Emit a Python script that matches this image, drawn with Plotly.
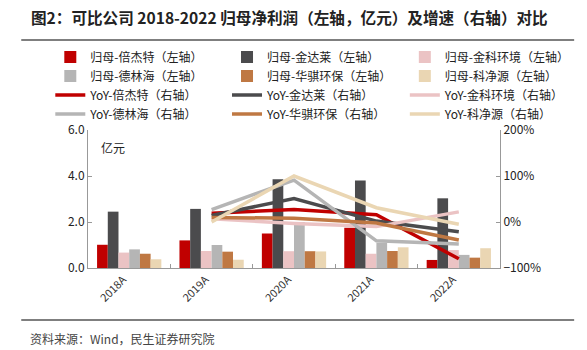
import plotly.graph_objects as go

years = ["2018A", "2019A", "2020A", "2021A", "2022A"]
companies = ["倍杰特", "金达莱", "金科环境", "德林海", "华骐环保", "科净源"]
colors = ["#C00000", "#4B4B4D", "#EBC3C4", "#B5B5B5", "#BF7843", "#EAD6B3"]
legend_col = ["legend", "legend2", "legend3", "legend", "legend2", "legend3"]

profit = {
    "倍杰特": [1.01, 1.20, 1.50, 1.75, 0.35],
    "金达莱": [2.45, 2.57, 3.86, 3.80, 3.03],
    "金科环境": [0.67, 0.74, 0.73, 0.62, 0.78],
    "德林海": [0.81, 1.00, 2.00, 1.10, 0.57],
    "华骐环保": [0.62, 0.71, 0.73, 0.74, 0.45],
    "科净源": [0.38, 0.36, 0.72, 0.90, 0.86],
}
yoy = {
    "倍杰特": [None, 19, 27, 16, -80],
    "金达莱": [None, 14, 51, 2, -21],
    "金科环境": [None, 7, -3, -10, 22],
    "德林海": [None, 27, 91, -41, -48],
    "华骐环保": [None, 10, 8, -2, -39],
    "科净源": [None, 0, 100, 31, -5],
}

fig = go.Figure()
for c, col, lg in zip(companies, colors, legend_col):
    fig.add_trace(go.Bar(x=years, y=profit[c], name=f"归母-{c}（左轴）", legend=lg,
                         marker=dict(color=col, line=dict(width=0))))
for c, col, lg in zip(companies, colors, legend_col):
    fig.add_trace(go.Scatter(x=years, y=yoy[c], name=f"YoY-{c}（右轴）", yaxis="y2", legend=lg,
                             mode="lines", line=dict(color=col, width=3.5)))

font = "Noto Sans CJK SC"
legend_y = (268 - 42.5) / 138
lg_common = dict(orientation="v", y=legend_y, xanchor="left", yanchor="top",
                 font=dict(size=12, color="#222"), itemwidth=30, tracegroupgap=0,
                 traceorder="normal", bgcolor="rgba(0,0,0,0)")
fig.update_layout(
    width=587, height=350,
    margin=dict(l=88, r=77, t=130, b=82),
    paper_bgcolor="white", plot_bgcolor="white",
    font=dict(family=font, size=12, color="#222"),
    barmode="group", bargap=0.22, bargroupgap=0,
    showlegend=True,
    legend=dict(x=-0.0915, **lg_common),
    legend2=dict(x=0.3374, **lg_common),
    legend3=dict(x=0.769, **lg_common),
    xaxis=dict(type="category", showline=True, linecolor="#999", linewidth=1,
               ticks="inside", tickson="boundaries", ticklen=4, tickcolor="#999",
               tickangle=-45, tickfont=dict(size=11, color="#333"), showgrid=False,
               ticklabelshift=-6),
    yaxis=dict(range=[0, 6], dtick=2, tickformat=".1f", showline=True, linecolor="#999",
               ticks="inside", ticklen=4, tickcolor="#999", showgrid=False, zeroline=False,
               tickfont=dict(size=12, color="#222")),
    yaxis2=dict(range=[-100, 200], dtick=100, ticksuffix="%", overlaying="y", side="right",
                showline=True, linecolor="#999", ticks="inside", ticklen=4, tickcolor="#999",
                showgrid=False, zeroline=False, tickfont=dict(size=12, color="#222")),
)
fig.add_annotation(text="<b>图2：可比公司 2018-2022 归母净利润（左轴，亿元）及增速（右轴）对比</b>",
                   xref="paper", yref="paper", x=-0.142, y=(350 - 17 - 82) / 138, xanchor="left",
                   yanchor="middle", showarrow=False, font=dict(size=15.6, color="#222", family=font))
fig.add_annotation(text="亿元", xref="paper", yref="paper", x=0.026, y=(350 - 147 - 82) / 138,
                   xanchor="left", yanchor="middle", showarrow=False, font=dict(size=12))
fig.add_annotation(text="资料来源：Wind，民生证券研究院", xref="paper", yref="paper",
                   x=-0.145, y=(350 - 338 - 82) / 138, xanchor="left", yanchor="middle",
                   showarrow=False, font=dict(size=12, color="#444"))
fig.add_shape(type="line", xref="paper", yref="paper", x0=-0.162, x1=1.18,
              y0=(350 - 40 - 82) / 138, y1=(350 - 40 - 82) / 138, line=dict(color="#555", width=1.5))
fig.add_shape(type="line", xref="paper", yref="paper", x0=-0.162, x1=1.18,
              y0=(350 - 320 - 82) / 138, y1=(350 - 320 - 82) / 138, line=dict(color="#555", width=1.5))

fig.write_html("out.html")
